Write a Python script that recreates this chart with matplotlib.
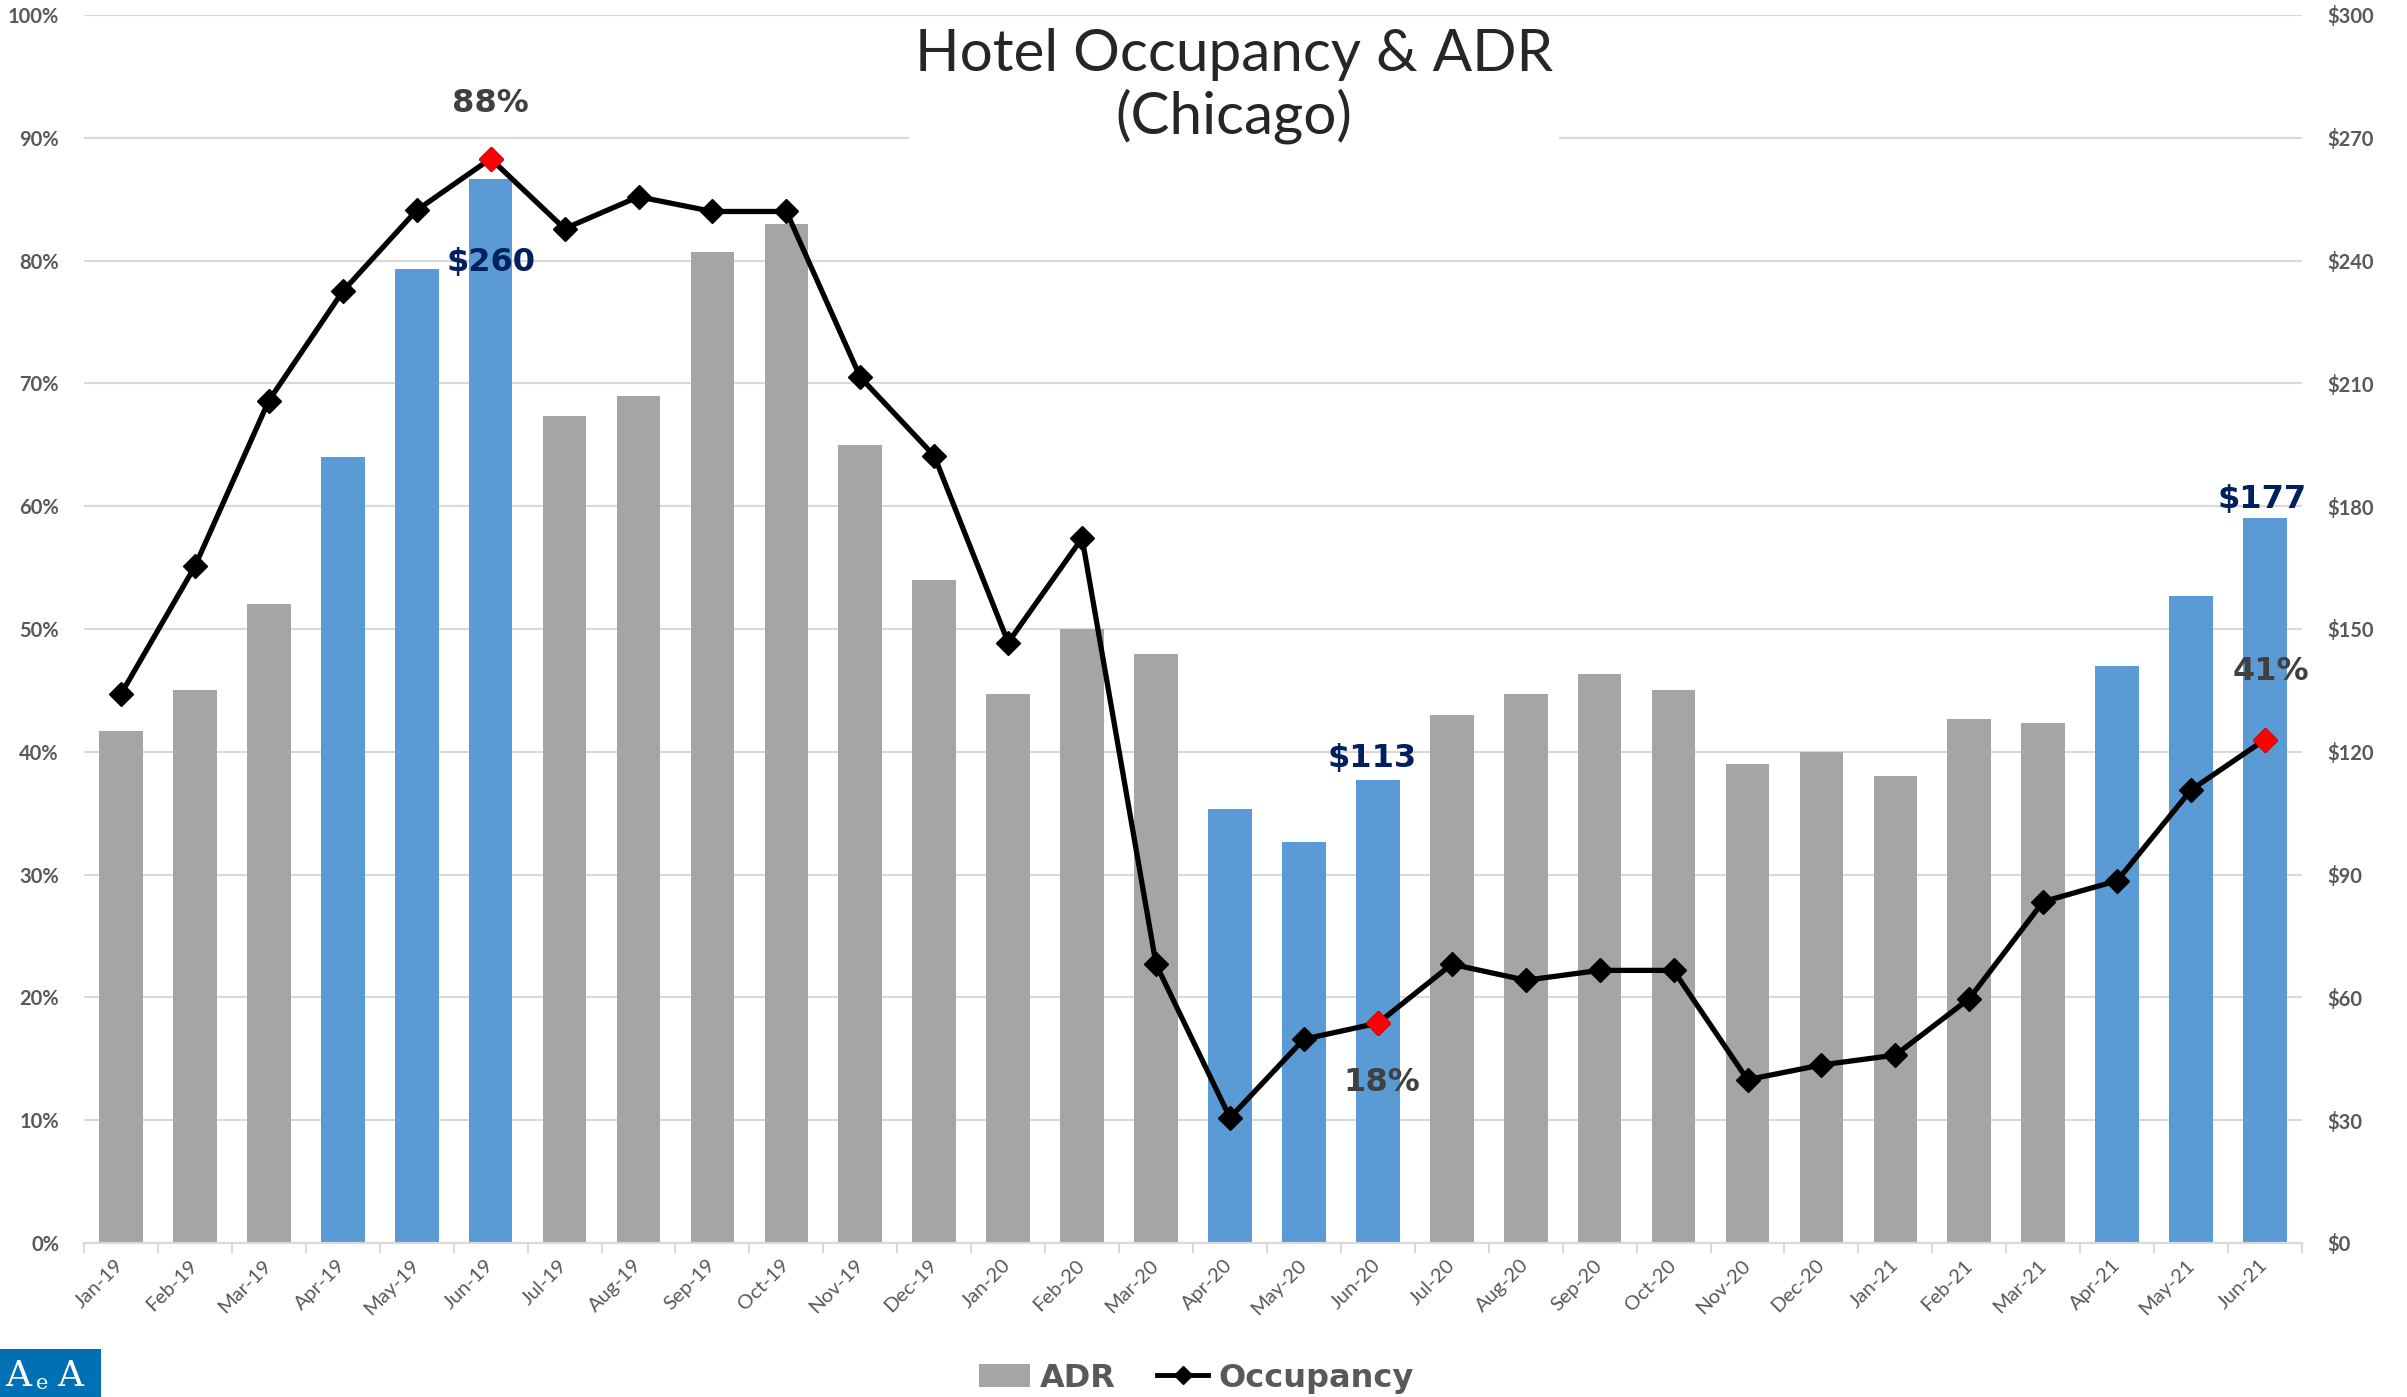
import matplotlib.pyplot as plt
from matplotlib.patches import Patch, Rectangle
from matplotlib.lines import Line2D


months = [
    "Jan-19", "Feb-19", "Mar-19", "Apr-19", "May-19", "Jun-19",
    "Jul-19", "Aug-19", "Sep-19", "Oct-19", "Nov-19", "Dec-19",
    "Jan-20", "Feb-20", "Mar-20", "Apr-20", "May-20", "Jun-20",
    "Jul-20", "Aug-20", "Sep-20", "Oct-20", "Nov-20", "Dec-20",
    "Jan-21", "Feb-21", "Mar-21", "Apr-21", "May-21", "Jun-21",
]
adr = [125, 135, 156, 192, 238, 260, 202, 207, 242, 249, 195, 162,
       134, 150, 144, 106, 98, 113, 129, 134, 139, 135, 117, 120,
       114, 128, 127, 141, 158, 177]
occupancy = [44.7, 55.1, 68.6, 77.5, 84.1, 88.3, 82.6, 85.2, 84.0, 84.0, 70.5, 64.1,
             48.9, 57.4, 22.7, 10.2, 16.6, 17.9, 22.7, 21.4, 22.2, 22.2, 13.3, 14.5,
             15.3, 19.9, 27.8, 29.5, 36.9, 41.0]
highlight_months = ["Apr-19", "May-19", "Jun-19", "Apr-20", "May-20", "Jun-20",
                    "Apr-21", "May-21", "Jun-21"]
marked_months = ["Jun-19", "Jun-20", "Jun-21"]

GRAY = "#A5A5A5"
BLUE = "#5B9BD5"
NAVY = "#002060"
DARK = "#404040"
TICK = "#595959"
GRID = "#D9D9D9"

x = list(range(len(months)))
bar_colors = [BLUE if m in highlight_months else GRAY for m in months]

fig = plt.figure(figsize=(24.07, 13.97), dpi=100)
ax = fig.add_axes([84 / 2407, 1 - 1243 / 1397, (2302 - 84) / 2407, (1243 - 15) / 1397])
ax2 = ax.twinx()

# bars on the right (ADR) axis, kept underneath the occupancy line
ax2.set_zorder(ax.get_zorder() - 1)
ax.patch.set_visible(False)
ax2.bar(x, adr, width=0.59, color=bar_colors, zorder=2)
ax2.set_ylim(0, 300)
ax2.set_yticks(range(0, 301, 30))
ax2.set_yticklabels([f"${v}" for v in range(0, 301, 30)])
ax2.grid(axis="y", color=GRID, linewidth=1.5, zorder=0)
ax2.set_axisbelow(True)

ax.plot(x, occupancy, color="black", linewidth=3.8, marker="D", markersize=12, zorder=3)
for i, m in enumerate(months):
    if m in marked_months:
        ax.plot(x[i], occupancy[i], marker="D", markersize=12, color="red",
                markeredgecolor="red", zorder=4)
ax.set_ylim(0, 100)
ax.set_yticks(range(0, 101, 10))
ax.set_yticklabels([f"{v}%" for v in range(0, 101, 10)])
ax.set_xlim(-0.5, len(months) - 0.5)

# category boundaries get tick marks, labels sit at centres
ax.set_xticks([i - 0.5 for i in range(len(months) + 1)])
ax.set_xticklabels([])
ax.set_xticks(x, minor=True)
ax.set_xticklabels(months, minor=True, rotation=45, ha="right", va="center",
                   rotation_mode="anchor", fontsize=14.5, family="Lato", color=TICK)
ax.tick_params(axis="x", which="major", length=7, width=1.5, color=GRID)
ax.tick_params(axis="x", which="minor", length=0, pad=14)

for a in (ax, ax2):
    for side in ("top", "left", "right"):
        a.spines[side].set_visible(False)
    a.spines["bottom"].set_color(GRID)
    a.spines["bottom"].set_linewidth(1.5)
ax.tick_params(axis="y", length=0, pad=18)
ax2.tick_params(axis="y", length=0, pad=18)
for lab in ax.get_yticklabels() + ax2.get_yticklabels():
    lab.set_family("Lato")
    lab.set_weight("bold")
    lab.set_fontsize(14.5)
    lab.set_color(TICK)

label_font = dict(family="DejaVu Sans", weight="bold", fontsize=23)


def label(axis, i, value, text, dx, dy, color):
    axis.annotate(text, (x[i], value), xytext=(dx, dy), textcoords="offset points",
                  ha="center", va="center", color=color, zorder=6, **label_font)


i = months.index("Jun-19")
label(ax, i, occupancy[i], f"{round(occupancy[i])}%", 0, 40, DARK)
label(ax2, i, adr[i], f"${adr[i]}", 0, -60, NAVY)
i = months.index("Jun-20")
label(ax2, i, adr[i], f"${adr[i]}", -4, 16, NAVY)
label(ax, i, occupancy[i], f"{round(occupancy[i])}%", 3, -43, DARK)
i = months.index("Jun-21")
label(ax2, i, adr[i], f"${adr[i]}", -2, 14, NAVY)
label(ax, i, occupancy[i], f"{round(occupancy[i])}%", 4, 49, DARK)

fig.text(1234 / 2407, 1 - 86 / 1397, "Hotel Occupancy & ADR\n(Chicago)", ha="center",
         va="center", fontsize=42, family="Lato", color="#262626", linespacing=1.15,
         bbox=dict(facecolor="white", edgecolor="none", pad=4))

handles = [
    Patch(facecolor=GRAY),
    Line2D([], [], color="black", linewidth=3.5, marker="D", markersize=9),
]
fig.legend(handles, ["ADR", "Occupancy"], loc="center", bbox_to_anchor=(0.497, 0.0136),
           ncol=2, frameon=False, handlelength=1.6, handleheight=0.75,
           handletextpad=0.3, columnspacing=1.3, labelcolor=TICK,
           prop=dict(family="DejaVu Sans", weight="bold", size=23))

# partial logo in the lower left corner
fig.patches.append(Rectangle((0, 0), 101 / 2407, 48 / 1397, transform=fig.transFigure,
                             facecolor="#0070B4", edgecolor="none"))
fig.text(18 / 2407, 4 / 1397, "A", ha="center", va="bottom", color="white",
         family="DejaVu Serif", fontsize=26)
fig.text(42 / 2407, 4 / 1397, "e", ha="center", va="bottom", color="white",
         family="DejaVu Serif", fontsize=15)
fig.text(70 / 2407, 4 / 1397, "A", ha="center", va="bottom", color="white",
         family="DejaVu Serif", fontsize=26)

fig.savefig("out.png", dpi=100)
